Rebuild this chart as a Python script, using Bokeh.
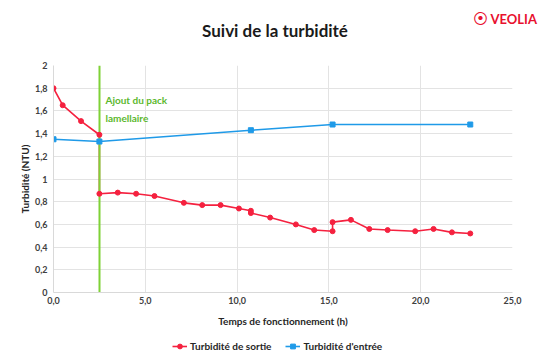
from bokeh.plotting import figure
from bokeh.layouts import column
from bokeh.models import (Range1d, FixedTicker, CustomJSTickFormatter, Label,
                          Legend, LegendItem)
from bokeh.embed import file_html
from bokeh.resources import INLINE

# ---- data ----
sortie_t = [0.0, 0.5, 1.5, 2.5, 2.5, 3.5, 4.5, 5.5, 7.1, 8.1, 9.1, 10.1, 10.75, 10.75,
            11.8, 13.2, 14.2, 15.2, 15.2, 16.2, 17.2, 18.2, 19.7, 20.7, 21.7, 22.7]
sortie_v = [1.80, 1.65, 1.51, 1.39, 0.87, 0.88, 0.87, 0.85, 0.79, 0.77, 0.77, 0.74, 0.72, 0.70,
            0.66, 0.60, 0.55, 0.54, 0.62, 0.64, 0.56, 0.55, 0.54, 0.56, 0.53, 0.52]
entree_t = [0.0, 2.5, 10.75, 15.2, 22.7]
entree_v = [1.35, 1.33, 1.43, 1.48, 1.48]
pack_t = [2.5]
x_ticks = [0, 5, 10, 15, 20, 25]
y_ticks = [0, 0.2, 0.4, 0.6, 0.8, 1.0, 1.2, 1.4, 1.6, 1.8, 2.0]
series_names = ["Turbidité de sortie", "Turbidité d'entrée"]

RED = "#f5213f"
BLUE = "#1f9ae8"
GREEN = "#7fd236"
FONT = "Lato"
W = 543


def bare(height, xr, yr):
    f = figure(width=W, height=height, output_backend="svg", toolbar_location=None,
               x_range=xr, y_range=yr, x_axis_type=None, y_axis_type=None, min_border=0)
    f.outline_line_color = None
    f.grid.visible = False
    f.frame_align = False
    return f


# ---- header: title + logo (page-pixel coordinates) ----
head = bare(48, Range1d(0, W), Range1d(48, 0))
head.add_layout(Label(x=274.5, y=30, text="Suivi de la turbidité", text_font=FONT,
                      text_font_size="17px", text_font_style="bold", text_color="#1a1a1a",
                      text_align="center", text_baseline="middle"))
head.add_layout(Label(x=480, y=18, text="⦿", text_font="DejaVu Sans", text_font_size="15px",
                      text_color="#e8102e", text_align="center", text_baseline="middle"))
head.add_layout(Label(x=490, y=18, text="VEOLIA", text_font=FONT, text_font_size="13px",
                      text_font_style="bold", text_color="#e8102e", text_baseline="middle"))

# ---- main chart ----
p = figure(width=W, height=287, output_backend="svg", toolbar_location=None,
           x_range=Range1d(0, 25), y_range=Range1d(0, 2),
           min_border_left=53, min_border_right=31, min_border_top=17, min_border_bottom=43)
p.outline_line_color = None
p.frame_align = False

for ax in (p.xaxis[0], p.yaxis[0]):
    ax.major_tick_line_color = None
    ax.minor_tick_line_color = None
    ax.major_tick_out = 0
    ax.major_tick_in = 0
    ax.minor_tick_out = 0
    ax.axis_line_color = "#d9d9d9"
    ax.major_label_text_font = FONT
    ax.major_label_text_font_size = "9px"
    ax.major_label_text_font_style = "bold"
    ax.major_label_text_color = "#404040"
    ax.axis_label_text_font = FONT
    ax.axis_label_text_font_size = "10px"
    ax.axis_label_text_font_style = "bold"
    ax.axis_label_text_color = "#262626"

p.xaxis.ticker = FixedTicker(ticks=x_ticks)
p.yaxis.ticker = FixedTicker(ticks=y_ticks)
p.xaxis.formatter = CustomJSTickFormatter(code="return tick.toFixed(1).replace('.', ',');")
p.yaxis.formatter = CustomJSTickFormatter(
    code="return (Math.round(tick*10)/10).toString().replace('.', ',');")
p.xaxis.axis_label = "Temps de fonctionnement (h)"
p.yaxis.axis_label = "Turbidité (NTU)"
p.xaxis.major_label_standoff = 4
p.xaxis.axis_label_standoff = 8
p.yaxis.major_label_standoff = 6
p.yaxis.axis_label_standoff = 1

p.xgrid.grid_line_color = "#e3e3e3"
p.ygrid.grid_line_color = "#e3e3e3"

p.line(sortie_t, sortie_v, line_color=RED, line_width=1.6)
p.line(entree_t, entree_v, line_color=BLUE, line_width=1.6)
p.vspan(x=pack_t, line_color=GREEN, line_width=2)
p.scatter(sortie_t, sortie_v, marker="circle", size=5, fill_color=RED, line_color=RED)
p.scatter(entree_t, entree_v, marker="square", size=5, fill_color=BLUE, line_color=BLUE)

p.add_layout(Label(x=2.83, y=1.70, text="Ajout du pack", text_font=FONT, text_font_size="10px",
                   text_font_style="bold", text_color="#5cb82e", text_baseline="middle"))
p.add_layout(Label(x=2.83, y=1.54, text="lamellaire", text_font=FONT, text_font_size="10px",
                   text_font_style="bold", text_color="#5cb82e", text_baseline="middle"))

# ---- footer: legend (series drawn off-view; only their legend glyphs show) ----
foot = bare(17, Range1d(-200, -100), Range1d(-200, -100))
lr = foot.line(sortie_t, sortie_v, line_color=RED, line_width=1.6)
sr = foot.scatter(sortie_t, sortie_v, marker="circle", size=5, fill_color=RED, line_color=RED)
lb = foot.line(entree_t, entree_v, line_color=BLUE, line_width=1.6)
sb = foot.scatter(entree_t, entree_v, marker="square", size=5, fill_color=BLUE, line_color=BLUE)
legend = Legend(items=[LegendItem(label=series_names[0], renderers=[lr, sr]),
                       LegendItem(label=series_names[1], renderers=[lb, sb])],
                orientation="horizontal", location=(172, 0), margin=0, padding=0,
                spacing=14, label_text_font=FONT, label_text_font_size="10px",
                label_text_font_style="bold", label_text_color="#262626",
                label_standoff=3, glyph_width=15, glyph_height=12, label_height=12,
                border_line_color=None, background_fill_alpha=0)
foot.add_layout(legend, "center")

layout = column(head, p, foot, spacing=0)
open("out.html", "w").write(file_html(layout, INLINE))
